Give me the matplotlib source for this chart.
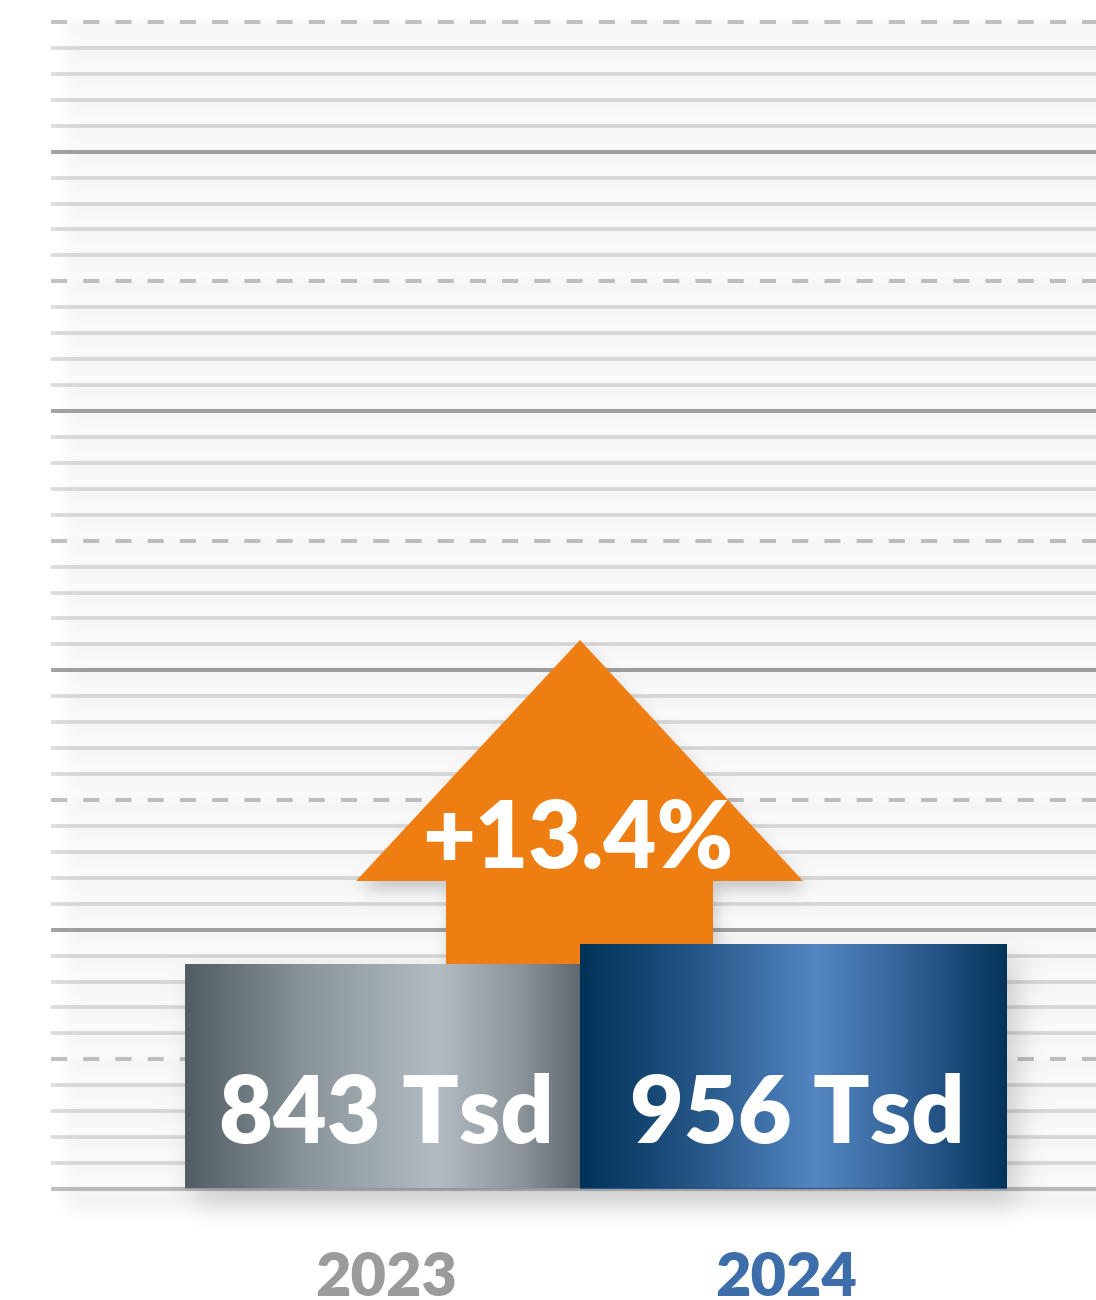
import math
import numpy as np
import matplotlib
matplotlib.use("Agg")
import matplotlib.pyplot as plt
from matplotlib.colors import LinearSegmentedColormap
from matplotlib.patches import Polygon
from matplotlib.path import Path
from matplotlib.transforms import blended_transform_factory, offset_copy

# ---------------- data ----------------
years = ["2023", "2024"]
values_tsd = [843, 956]
value_labels = ["843 Tsd", "956 Tsd"]
change_label = "+13.4%"

# ---------------- style ----------------
W, H = 1096, 1300
plt.rcParams["font.family"] = ["Lato", "DejaVu Sans"]

grid_left = 51
grid_top = 22
grid_bottom = 1189
base_px = 1188.5
n_lines = 45
axis_floor = -412.0      # visual floor of the (not zero-based) bars
px_per_tsd = 0.1785      # vertical scale of the bars, pixels per Tsd
x0_px, unit_px = 382.5, 411.0
bar_widths_px = [395, 427]
year_colors = ["#9b9b9b", "#3d6eaa"]
year_dx_px = [4, -7]
arrow_color = "#ee7d12"
label_weight = "heavy"

fig = plt.figure(figsize=(W / 100, H / 100), dpi=100)
fig.patch.set_facecolor("white")

bg = fig.add_axes([0, 0, 1, 1])
bg.set_xlim(0, W)
bg.set_ylim(H, 0)
bg.axis("off")

ax = fig.add_axes([0, 0, 1, 1])
ax.patch.set_alpha(0)
ax.axis("off")
xlim = (-x0_px / unit_px, (W - x0_px) / unit_px)
ylim = (axis_floor - (H - base_px) / px_per_tsd, axis_floor + base_px / px_per_tsd)
ax.set_xlim(*xlim)
ax.set_ylim(*ylim)

# ---------------- grid lines ----------------
step = (grid_bottom - grid_top) / n_lines
for k in range(n_lines + 1):
    y = grid_top + k * step
    if k == n_lines:
        kw = dict(color="#bfbfbf", lw=3.0)
    elif k % 10 == 0:
        kw = dict(color="#c3c3c3", lw=2.9, linestyles=[(0, (4, 4))])
    elif k % 10 == 5:
        kw = dict(color="#a3a3a3", lw=2.9)
    else:
        kw = dict(color="#dbdcdc", lw=2.7)
    bg.hlines(y, grid_left, W, zorder=1, **kw)

# ---------------- bars ----------------
xs = np.arange(len(years))
heights = np.array(values_tsd, dtype=float) - axis_floor
widths = [w / unit_px for w in bar_widths_px]
bars = ax.bar(xs, heights, bottom=axis_floor, width=widths,
              color=["#8a949a", "#2a5a8c"], linewidth=0, zorder=3)

cmaps = [
    LinearSegmentedColormap.from_list(
        "grey", [(0, "#525c62"), (0.30, "#88939a"), (0.64, "#b4bcc3"),
                 (0.85, "#8a949a"), (1, "#5f696f")]),
    LinearSegmentedColormap.from_list(
        "blue", [(0, "#003258"), (0.25, "#225383"), (0.555, "#5386c3"),
                 (0.80, "#2b5b8e"), (1, "#02345a")]),
]
g = np.linspace(0, 1, 512)[None, :]
for bar, cm in zip(bars, cmaps):
    x, y = bar.get_x(), bar.get_y()
    w, h = bar.get_width(), bar.get_height()
    im = ax.imshow(g, cmap=cm, extent=(x, x + w, y, y + h), aspect="auto",
                   zorder=3.1, interpolation="bicubic")
    im.set_clip_path(bar)
ax.set_xlim(*xlim)
ax.set_ylim(*ylim)

# ---------------- arrow (annotation) ----------------
arrow_pts = np.array([(580, 640), (803, 881), (713, 881), (713, 975),
                      (446, 975), (446, 881), (356, 881)], dtype=float)
bg.add_patch(Polygon(arrow_pts, closed=True, facecolor=arrow_color,
                     edgecolor="none", zorder=3))

# ---------------- soft shadows ----------------
yy, xx = np.mgrid[0:H, 0:W] + 0.5


def rect(x0, x1, y0, y1):
    return ((xx >= x0) & (xx < x1) & (yy >= y0) & (yy < y1)).astype(float)


def box(a, r, axis):
    pad = [(0, 0)] * a.ndim
    pad[axis] = (r + 1, r)
    c = np.cumsum(np.pad(a, pad, mode="edge"), axis=axis)
    n = a.shape[axis]
    hi = np.take(c, np.arange(2 * r + 1, 2 * r + 1 + n), axis=axis)
    lo = np.take(c, np.arange(0, n), axis=axis)
    return (hi - lo) / (2 * r + 1)


def blur(a, sigma):
    r = max(1, int(round((math.sqrt(4 * sigma ** 2 + 1) - 1) / 2)))
    for axis in (0, 1):
        for _ in range(3):
            a = box(a, r, axis)
    return a


layers = []
layers.append(0.022 * blur(rect(grid_left + 12, W + 60, grid_top, grid_bottom), 8))
m = np.zeros((H, W))
for k in range(n_lines):
    y = grid_top + k * step
    m += rect(grid_left + 18, W + 60, y + 3, y + 9)
layers.append(0.05 * blur(m, 4))
layers.append(0.07 * blur(rect(grid_left + 15, W + 60, grid_bottom + 3, grid_bottom + 19), 7))

m = np.zeros((H, W))
for bar in bars:
    bb = bar.get_window_extent()
    m += rect(bb.x0 + 10, bb.x1 + 10, H - bb.y1 + 14, H - bb.y0 + 14)
layers.append(0.2 * blur(m, 13))

apath = Path(arrow_pts + np.array([4, 10]))
inside = apath.contains_points(np.c_[xx.ravel(), yy.ravel()]).reshape(H, W)
layers.append(0.2 * blur(inside.astype(float), 7))

alpha = 1 - np.prod([1 - np.clip(l, 0, 1) for l in layers], axis=0)
rgba = np.zeros((H, W, 4))
rgba[..., :3] = 0.12
rgba[..., 3] = alpha
bg.imshow(rgba, extent=(0, W, H, 0), zorder=2, interpolation="nearest", aspect="auto")
bg.set_xlim(0, W)
bg.set_ylim(H, 0)

# ---------------- texts ----------------
tr = blended_transform_factory(ax.transData, bg.transData)
tr_lab = offset_copy(tr, fig=fig, x=4, y=0, units="dots")
for i, (lab, yr) in enumerate(zip(value_labels, years)):
    ax.text(xs[i], 1142.5, lab, transform=tr_lab, ha="center", va="baseline",
            color="white", fontsize=67, fontweight=label_weight, zorder=6)
    tr_year = offset_copy(tr, fig=fig, x=year_dx_px[i], y=0, units="dots")
    ax.text(xs[i], 1296, yr, transform=tr_year, ha="center", va="baseline",
            color=year_colors[i], fontsize=44, fontweight=label_weight, zorder=6)

bg.text(578, 868, change_label, ha="center", va="baseline", color="white",
        fontsize=66, fontweight=label_weight, zorder=5)

fig.savefig("out.png", dpi=100, facecolor="white")
